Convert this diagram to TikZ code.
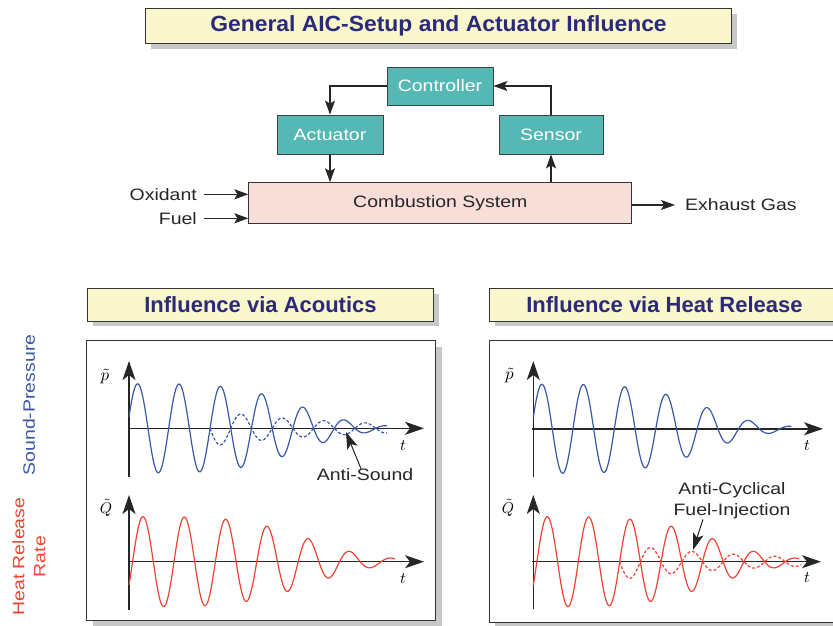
\documentclass[tikz,border=0pt]{standalone}
\usepackage{fontspec}
\setmainfont{Liberation Sans}[FakeStretch=1.18]
\newfontfamily\titlefont{Liberation Sans}
\usetikzlibrary{arrows.meta,shadows}
\definecolor{navy}{HTML}{2B2A7A}
\definecolor{titlefill}{HTML}{FAF7CD}
\definecolor{tealfill}{HTML}{55B8B5}
\definecolor{pinkfill}{HTML}{F8DDD9}
\definecolor{wblue}{HTML}{3B57A7}
\definecolor{wred}{HTML}{EE4433}
\definecolor{shadowgray}{HTML}{C8C8C8}
\definecolor{txt}{HTML}{262626}
\begin{document}
\begin{tikzpicture}[x=1pt,y=-1pt,
  lbl/.style={font=\fontsize{16.5}{21}\selectfont, text=txt, inner sep=0pt},
  ttl/.style={draw=black!80, line width=1pt, fill=titlefill, text=navy, inner sep=0pt,
    drop shadow={shadow xshift=5pt,shadow yshift=-5pt,fill=shadowgray,opacity=1}},
  ttlfont/.style={font=\titlefont\bfseries\fontsize{22}{24}\selectfont},
  blk/.style={draw=black!75, line width=0.8pt, fill=tealfill, text=white, inner sep=0pt,
    font=\fontsize{16.5}{19}\selectfont},
  conn/.style={line width=1.2pt, draw=black!85, -{Stealth[length=14pt,width=10pt,inset=3pt]}},
  panel/.style={draw=black!80, line width=1.2pt, fill=white, inner sep=0pt,
    drop shadow={shadow xshift=6pt,shadow yshift=-6pt,fill=shadowgray,opacity=1}},
  axisline/.style={line width=1.5pt, draw=black!85, -{Stealth[length=19pt,width=13pt,inset=5pt]}},
  pw/.style={draw=wblue, line width=1.2pt},
  qw/.style={draw=wred, line width=1.2pt},
  dsh/.style={dash pattern=on 3pt off 2pt},
  ann/.style={line width=1pt, draw=black!85, -{Stealth[length=17pt,width=11pt,inset=4pt]}},
  axlbl/.style={inner sep=0pt},
  tlbl/.style={inner sep=0pt}
]
\fill[white] (0,0) rectangle (833,625);
\useasboundingbox (0,0) rectangle (833,625);

% ---------- top title ----------
\node[ttl, ttlfont, minimum width=586, minimum height=35, anchor=north west] (maintitle) at (145,8)
  {\scalebox{1.04}[1]{General AIC-Setup and Actuator Influence}};

% ---------- block diagram ----------
\node[blk, minimum width=106, minimum height=38] (ctrl) at (440,86) {Controller};
\node[blk, minimum width=106, minimum height=39] (act) at (330,134.5) {Actuator};
\node[blk, minimum width=104, minimum height=39] (sens) at (551,134.5) {Sensor};
\node[draw=black!80, line width=0.9pt, fill=pinkfill, minimum width=383, minimum height=40.6,
  inner sep=0pt, font=\fontsize{16.5}{19}\selectfont, text=txt] (comb) at (440.3,203) {Combustion System};

\node[lbl, anchor=east] (ox) at (197,194.3) {Oxidant};
\node[lbl, anchor=east] (fuel) at (197,218.3) {Fuel};
\node[lbl, anchor=west] (exh) at (685,205) {Exhaust Gas};

\draw[conn] (ctrl.west) -| (act.north);
\draw[conn] (sens.north) |- (ctrl.east);
\draw[conn] (act.south) -- (act.south |- comb.north);
\draw[conn] (comb.north -| sens.south) -- (sens.south);
\draw[conn] ([xshift=7pt]ox.east) -- (ox.east -| comb.west);
\draw[conn] ([xshift=7pt]fuel.east) -- (fuel.east -| comb.west);
\draw[conn] (exh.west -| comb.east) -- ([xshift=-10pt]exh.west);

% ---------- panel frames and titles ----------
\node[panel, minimum width=349, minimum height=280, anchor=north west] (panelA) at (86,340) {};
\node[panel, minimum width=360, minimum height=282, anchor=north west] (panelB) at (488.5,339.5) {};
\node[ttl, ttlfont, minimum width=346, minimum height=32.5, anchor=north west] (ttlA) at (87,288) {Influence via Acoutics};
\node[ttl, ttlfont, minimum width=350, minimum height=32.5, anchor=north west] (ttlB) at (489,288) {Influence via Heat Release};

% ---------- side labels ----------
\node[lbl, text=wblue, rotate=90] (sp) at (29,405) {Sound-Pressure};
\node[lbl, text=wred, rotate=90, align=center] (hrr) at (29,556.7) {Heat Release\\Rate};

% ---------- left panel: acoustics ----------
\coordinate (a1o) at (129,428.3);
\coordinate (a2o) at (129,561.7);
\draw[axisline] (129,477) -- (129,361);
\draw[axisline] (128,428.3) -- (424,428.3);
\draw[axisline] (129,610) -- (129,495);
\draw[axisline] (128,561.7) -- (424,561.7);
\node[axlbl] (pA) at (105,376) {\scalebox{1.7}{$\tilde{p}$}};
\node[axlbl] (qA) at (106,508) {\scalebox{1.55}{$\tilde{Q}$}};
\node[tlbl] (tA1) at (403,446) {\scalebox{1.6}{$t$}};
\node[tlbl] (tA2) at (403,579) {\scalebox{1.6}{$t$}};

\begin{scope}[shift={(a1o)}]
  \draw[pw] plot[domain=0:258, samples=320, smooth]
    (\x, {-(43*exp(-(\x/185)^4)+1.5)*sin(\x*8.69565+15)});
  \draw[pw, dsh] plot[domain=81.1:258, samples=220, smooth]
    (\x, {(18*exp(-(\x-81.1)/130))*sin(\x*8.69565+15)});
\end{scope}
\begin{scope}[shift={(a2o)}]
  \draw[qw] plot[domain=0:266, samples=320, smooth]
    (\x, {-(43*exp(-(\x/195)^4)+2)*sin((\x-3.6)*8.69565)});
\end{scope}

\node[lbl] (antis) at (365,475) {Anti-Sound};
\coordinate (asTip) at (346,432);
\draw[ann] ([xshift=-4pt]antis.north) -- (asTip);

% ---------- right panel: heat release ----------
\coordinate (b1o) at (533.3,428.8);
\coordinate (b2o) at (533.3,561.7);
\draw[axisline] (533.3,477) -- (533.3,361);
\draw[axisline] (532.3,428.8) -- (823,428.8);
\draw[axisline] (533.3,609) -- (533.3,495);
\draw[axisline] (532.3,561.7) -- (821,561.7);
\node[axlbl] (pB) at (509.5,375) {\scalebox{1.7}{$\tilde{p}$}};
\node[axlbl] (qB) at (508,508) {\scalebox{1.55}{$\tilde{Q}$}};
\node[tlbl] (tB1) at (807,446) {\scalebox{1.6}{$t$}};
\node[tlbl] (tB2) at (807,578) {\scalebox{1.6}{$t$}};

\begin{scope}[shift={(b1o)}]
  \draw[pw] plot[domain=0:258, samples=320, smooth]
    (\x, {-(43*exp(-(\x/185)^4)+1.5)*sin(\x*8.69565+15)});
\end{scope}
\begin{scope}[shift={(b2o)}]
  \draw[qw] plot[domain=0:266, samples=320, smooth]
    (\x, {-(43*exp(-(\x/195)^4)+2)*sin((\x-3.6)*8.69565)});
  \draw[qw, dsh] plot[domain=86.4:268, samples=220, smooth]
    (\x, {(18*exp(-(\x-86.4)/130))*sin((\x-3.6)*8.69565)});
\end{scope}

\node[lbl, align=center] (acf) at (732,501) {Anti-Cyclical\\Fuel-Injection};
\coordinate (acTip) at (693,550);
\draw[ann] ([xshift=-29pt]acf.south) -- (acTip);
\end{tikzpicture}
\end{document}
